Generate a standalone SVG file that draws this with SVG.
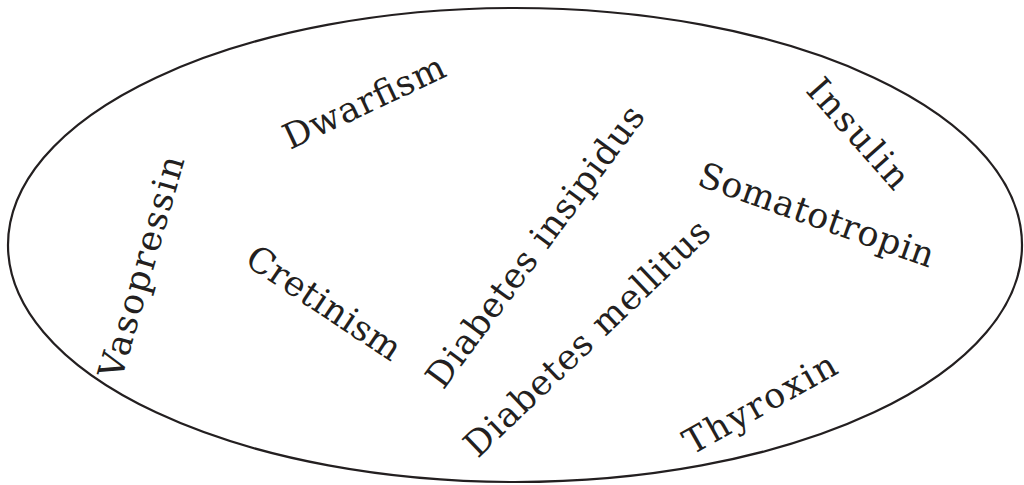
<svg xmlns="http://www.w3.org/2000/svg" width="1024" height="485" viewBox="0 0 1024 485">
<style>
.t{font-family:"DejaVu Serif","Liberation Serif",serif;font-size:35px;fill:#231f20;text-anchor:middle}
</style>
<rect width="1024" height="485" fill="#ffffff"/>
<g id="outline">
<ellipse cx="515" cy="245" rx="507" ry="237" fill="none" stroke="#231f20" stroke-width="2.2"/>
</g>
<g id="vasopressin" transform="translate(141.5,267) rotate(-74)"><text class="t" x="0" y="12" textLength="230" lengthAdjust="spacing">Vasopressin</text></g>
<g id="dwarfism" transform="translate(364,102) rotate(-25.2)"><text class="t" x="0" y="12" textLength="175" lengthAdjust="spacing">Dwarfism</text></g>
<g id="cretinism" transform="translate(324,303) rotate(33.6)"><text class="t" x="0" y="12" textLength="178" lengthAdjust="spacing">Cretinism</text></g>
<g id="diabetes-insipidus" transform="translate(535,246.5) rotate(-53.5)"><text class="t" x="0" y="12" textLength="341" lengthAdjust="spacing">Diabetes insipidus</text></g>
<g id="diabetes-mellitus" transform="translate(587,338) rotate(-43.7)"><text class="t" x="0" y="12" textLength="325" lengthAdjust="spacing">Diabetes mellitus</text></g>
<g id="insulin" transform="translate(858.5,133.5) rotate(48.5)"><text class="t" x="0" y="12" textLength="135" lengthAdjust="spacing">Insulin</text></g>
<g id="somatotropin" transform="translate(816.5,215) rotate(19.6)"><text class="t" x="0" y="12" textLength="248" lengthAdjust="spacing">Somatotropin</text></g>
<g id="thyroxin" transform="translate(760,403.5) rotate(-29.3)"><text class="t" x="0" y="12" textLength="170" lengthAdjust="spacing">Thyroxin</text></g>
<g id="connectors"></g>
</svg>
